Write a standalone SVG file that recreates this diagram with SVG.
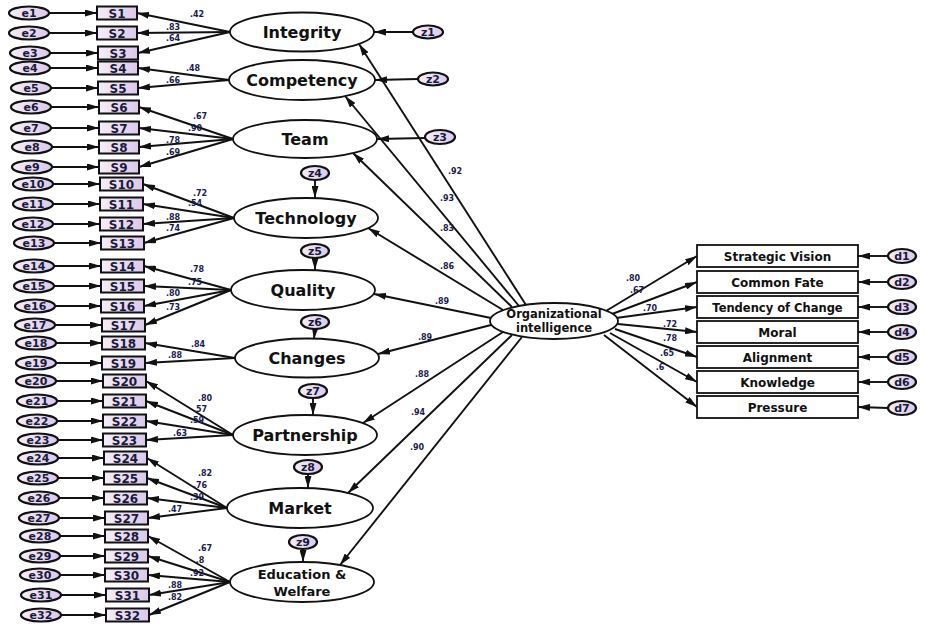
<svg xmlns="http://www.w3.org/2000/svg" width="925" height="625" viewBox="0 0 925 625">
<defs>
<linearGradient id="lav" x1="0" y1="0" x2="1" y2="0">
<stop offset="0" stop-color="#f4eef8"/><stop offset="1" stop-color="#dcc8ea"/>
</linearGradient>
<marker id="ah" markerWidth="12" markerHeight="7" refX="12" refY="3.5" orient="auto" markerUnits="userSpaceOnUse">
<path d="M0,0 L12,3.5 L0,7 z" fill="#111"/>
</marker>
</defs>
<style>
.e{fill:url(#lav);stroke:#111;stroke-width:2.2}
.s{fill:url(#lav);stroke:#111;stroke-width:2}
.lat{fill:#fff;stroke:#111;stroke-width:1.8}
.box{fill:#fff;stroke:#111;stroke-width:1.8}
.t{font-family:"DejaVu Sans",Verdana,sans-serif;font-weight:bold;fill:#111;text-anchor:middle}
.te{font-size:11px;fill:#1a1a3a}
.ts{font-size:12px;fill:#1a1a3a}
.tl{font-size:16px}
.tr{font-size:12px}
.tc{font-size:8px;fill:#1a1a50}
#conn line{stroke:#111;stroke-width:1.9;marker-end:url(#ah)}
</style>
<rect width="925" height="625" fill="#fff"/>
<g id="conn">
<line x1="49" y1="13" x2="97" y2="13"/>
<line x1="49" y1="33" x2="97" y2="33"/>
<line x1="50" y1="53" x2="98" y2="53"/>
<line x1="50" y1="68" x2="98" y2="68"/>
<line x1="51" y1="88" x2="98" y2="88"/>
<line x1="51" y1="107" x2="99" y2="107"/>
<line x1="51" y1="128" x2="99" y2="128"/>
<line x1="52" y1="147" x2="99" y2="147"/>
<line x1="52" y1="167" x2="99" y2="167"/>
<line x1="53" y1="184" x2="100" y2="184"/>
<line x1="53" y1="204" x2="100" y2="204"/>
<line x1="53" y1="224" x2="100" y2="224"/>
<line x1="54" y1="243" x2="101" y2="243"/>
<line x1="54" y1="266" x2="101" y2="266"/>
<line x1="54" y1="286" x2="101" y2="286"/>
<line x1="55" y1="306" x2="101" y2="306"/>
<line x1="55" y1="325" x2="102" y2="325"/>
<line x1="56" y1="343" x2="102" y2="343"/>
<line x1="56" y1="363" x2="102" y2="363"/>
<line x1="56" y1="381" x2="103" y2="381"/>
<line x1="57" y1="401" x2="103" y2="401"/>
<line x1="57" y1="421" x2="103" y2="421"/>
<line x1="58" y1="440" x2="103" y2="440"/>
<line x1="58" y1="458" x2="104" y2="458"/>
<line x1="58" y1="478" x2="104" y2="478"/>
<line x1="59" y1="498" x2="104" y2="498"/>
<line x1="59" y1="518" x2="105" y2="518"/>
<line x1="60" y1="536" x2="105" y2="536"/>
<line x1="60" y1="556" x2="105" y2="556"/>
<line x1="60" y1="575" x2="105" y2="575"/>
<line x1="61" y1="595" x2="106" y2="595"/>
<line x1="61" y1="615" x2="106" y2="615"/>
<line x1="230" y1="32" x2="137" y2="13"/>
<line x1="230" y1="32" x2="137" y2="33"/>
<line x1="230" y1="32" x2="138" y2="53"/>
<line x1="229" y1="80" x2="138" y2="68"/>
<line x1="229" y1="80" x2="138" y2="88"/>
<line x1="233" y1="139" x2="139" y2="107"/>
<line x1="233" y1="139" x2="139" y2="128"/>
<line x1="233" y1="139" x2="139" y2="147"/>
<line x1="233" y1="139" x2="139" y2="167"/>
<line x1="234" y1="218" x2="143" y2="184"/>
<line x1="234" y1="218" x2="143" y2="204"/>
<line x1="234" y1="218" x2="143" y2="224"/>
<line x1="234" y1="218" x2="144" y2="243"/>
<line x1="231" y1="290" x2="144" y2="266"/>
<line x1="231" y1="290" x2="144" y2="286"/>
<line x1="231" y1="290" x2="144" y2="306"/>
<line x1="231" y1="290" x2="145" y2="325"/>
<line x1="235" y1="358" x2="145" y2="343"/>
<line x1="235" y1="358" x2="145" y2="363"/>
<line x1="233" y1="435" x2="146" y2="381"/>
<line x1="233" y1="435" x2="146" y2="401"/>
<line x1="233" y1="435" x2="146" y2="421"/>
<line x1="233" y1="435" x2="146" y2="440"/>
<line x1="227" y1="508" x2="147" y2="458"/>
<line x1="227" y1="508" x2="147" y2="478"/>
<line x1="227" y1="508" x2="147" y2="498"/>
<line x1="227" y1="508" x2="148" y2="518"/>
<line x1="230" y1="582" x2="148" y2="536"/>
<line x1="230" y1="582" x2="148" y2="556"/>
<line x1="230" y1="582" x2="148" y2="575"/>
<line x1="230" y1="582" x2="149" y2="595"/>
<line x1="230" y1="582" x2="149" y2="615"/>
<line x1="413" y1="32" x2="374" y2="32"/>
<line x1="418" y1="79" x2="375" y2="80"/>
<line x1="425" y1="138" x2="377" y2="139"/>
<line x1="315" y1="180" x2="315" y2="198"/>
<line x1="315" y1="258" x2="315" y2="270"/>
<line x1="315" y1="329" x2="314" y2="339"/>
<line x1="313" y1="398" x2="313" y2="415"/>
<line x1="308" y1="474" x2="308" y2="488"/>
<line x1="303" y1="549" x2="303" y2="562"/>
<line x1="526" y1="305" x2="359" y2="44"/>
<line x1="519" y1="306" x2="345" y2="96"/>
<line x1="512" y1="307" x2="353" y2="153"/>
<line x1="503" y1="310" x2="368" y2="228"/>
<line x1="491" y1="318" x2="374" y2="294"/>
<line x1="491" y1="325" x2="378" y2="354"/>
<line x1="503" y1="332" x2="363" y2="423"/>
<line x1="512" y1="335" x2="348" y2="493"/>
<line x1="522" y1="337" x2="340" y2="565"/>
<line x1="606" y1="311" x2="697" y2="256"/>
<line x1="612" y1="314" x2="697" y2="282"/>
<line x1="616" y1="318" x2="697" y2="307"/>
<line x1="618" y1="324" x2="697" y2="332"/>
<line x1="615" y1="329" x2="697" y2="357"/>
<line x1="610" y1="333" x2="697" y2="382"/>
<line x1="604" y1="335" x2="697" y2="407"/>
<line x1="888" y1="256" x2="858" y2="256"/>
<line x1="888" y1="282" x2="858" y2="282"/>
<line x1="888" y1="307" x2="858" y2="307"/>
<line x1="888" y1="332" x2="858" y2="332"/>
<line x1="888" y1="357" x2="858" y2="357"/>
<line x1="888" y1="382" x2="858" y2="382"/>
<line x1="888" y1="408" x2="858" y2="407"/>
</g>
<g id="e1"><ellipse class="e" cx="29" cy="13" rx="20" ry="6.5"/><text class="t te" x="29" y="17">e1</text></g>
<g id="e2"><ellipse class="e" cx="29" cy="33" rx="20" ry="6.5"/><text class="t te" x="29" y="37">e2</text></g>
<g id="e3"><ellipse class="e" cx="30" cy="53" rx="20" ry="6.5"/><text class="t te" x="30" y="57">e3</text></g>
<g id="e4"><ellipse class="e" cx="30" cy="68" rx="20" ry="6.5"/><text class="t te" x="30" y="72">e4</text></g>
<g id="e5"><ellipse class="e" cx="31" cy="88" rx="20" ry="6.5"/><text class="t te" x="31" y="92">e5</text></g>
<g id="e6"><ellipse class="e" cx="31" cy="107" rx="20" ry="6.5"/><text class="t te" x="31" y="111">e6</text></g>
<g id="e7"><ellipse class="e" cx="31" cy="128" rx="20" ry="6.5"/><text class="t te" x="31" y="132">e7</text></g>
<g id="e8"><ellipse class="e" cx="32" cy="147" rx="20" ry="6.5"/><text class="t te" x="32" y="151">e8</text></g>
<g id="e9"><ellipse class="e" cx="32" cy="167" rx="20" ry="6.5"/><text class="t te" x="32" y="171">e9</text></g>
<g id="e10"><ellipse class="e" cx="33" cy="184" rx="20" ry="6.5"/><text class="t te" x="33" y="188">e10</text></g>
<g id="e11"><ellipse class="e" cx="33" cy="204" rx="20" ry="6.5"/><text class="t te" x="33" y="208">e11</text></g>
<g id="e12"><ellipse class="e" cx="33" cy="224" rx="20" ry="6.5"/><text class="t te" x="33" y="228">e12</text></g>
<g id="e13"><ellipse class="e" cx="34" cy="243" rx="20" ry="6.5"/><text class="t te" x="34" y="247">e13</text></g>
<g id="e14"><ellipse class="e" cx="34" cy="266" rx="20" ry="6.5"/><text class="t te" x="34" y="270">e14</text></g>
<g id="e15"><ellipse class="e" cx="34" cy="286" rx="20" ry="6.5"/><text class="t te" x="34" y="290">e15</text></g>
<g id="e16"><ellipse class="e" cx="35" cy="306" rx="20" ry="6.5"/><text class="t te" x="35" y="310">e16</text></g>
<g id="e17"><ellipse class="e" cx="35" cy="325" rx="20" ry="6.5"/><text class="t te" x="35" y="329">e17</text></g>
<g id="e18"><ellipse class="e" cx="36" cy="343" rx="20" ry="6.5"/><text class="t te" x="36" y="347">e18</text></g>
<g id="e19"><ellipse class="e" cx="36" cy="363" rx="20" ry="6.5"/><text class="t te" x="36" y="367">e19</text></g>
<g id="e20"><ellipse class="e" cx="36" cy="381" rx="20" ry="6.5"/><text class="t te" x="36" y="385">e20</text></g>
<g id="e21"><ellipse class="e" cx="37" cy="401" rx="20" ry="6.5"/><text class="t te" x="37" y="405">e21</text></g>
<g id="e22"><ellipse class="e" cx="37" cy="421" rx="20" ry="6.5"/><text class="t te" x="37" y="425">e22</text></g>
<g id="e23"><ellipse class="e" cx="38" cy="440" rx="20" ry="6.5"/><text class="t te" x="38" y="444">e23</text></g>
<g id="e24"><ellipse class="e" cx="38" cy="458" rx="20" ry="6.5"/><text class="t te" x="38" y="462">e24</text></g>
<g id="e25"><ellipse class="e" cx="38" cy="478" rx="20" ry="6.5"/><text class="t te" x="38" y="482">e25</text></g>
<g id="e26"><ellipse class="e" cx="39" cy="498" rx="20" ry="6.5"/><text class="t te" x="39" y="502">e26</text></g>
<g id="e27"><ellipse class="e" cx="39" cy="518" rx="20" ry="6.5"/><text class="t te" x="39" y="522">e27</text></g>
<g id="e28"><ellipse class="e" cx="40" cy="536" rx="20" ry="6.5"/><text class="t te" x="40" y="540">e28</text></g>
<g id="e29"><ellipse class="e" cx="40" cy="556" rx="20" ry="6.5"/><text class="t te" x="40" y="560">e29</text></g>
<g id="e30"><ellipse class="e" cx="40" cy="575" rx="20" ry="6.5"/><text class="t te" x="40" y="579">e30</text></g>
<g id="e31"><ellipse class="e" cx="41" cy="595" rx="20" ry="6.5"/><text class="t te" x="41" y="599">e31</text></g>
<g id="e32"><ellipse class="e" cx="41" cy="615" rx="20" ry="6.5"/><text class="t te" x="41" y="619">e32</text></g>
<g id="S1"><rect class="s" x="97" y="6.5" width="40" height="13"/><text class="t ts" x="117" y="17.5">S1</text></g>
<g id="S2"><rect class="s" x="97" y="26.5" width="40" height="13"/><text class="t ts" x="117" y="37.5">S2</text></g>
<g id="S3"><rect class="s" x="98" y="46.5" width="40" height="13"/><text class="t ts" x="118" y="57.5">S3</text></g>
<g id="S4"><rect class="s" x="98" y="61.5" width="40" height="13"/><text class="t ts" x="118" y="72.5">S4</text></g>
<g id="S5"><rect class="s" x="98" y="81.5" width="40" height="13"/><text class="t ts" x="118" y="92.5">S5</text></g>
<g id="S6"><rect class="s" x="99" y="100.5" width="40" height="13"/><text class="t ts" x="119" y="111.5">S6</text></g>
<g id="S7"><rect class="s" x="99" y="121.5" width="40" height="13"/><text class="t ts" x="119" y="132.5">S7</text></g>
<g id="S8"><rect class="s" x="99" y="140.5" width="40" height="13"/><text class="t ts" x="119" y="151.5">S8</text></g>
<g id="S9"><rect class="s" x="99" y="160.5" width="40" height="13"/><text class="t ts" x="119" y="171.5">S9</text></g>
<g id="S10"><rect class="s" x="100" y="177.5" width="43" height="13"/><text class="t ts" x="121.5" y="188.5">S10</text></g>
<g id="S11"><rect class="s" x="100" y="197.5" width="43" height="13"/><text class="t ts" x="121.5" y="208.5">S11</text></g>
<g id="S12"><rect class="s" x="100" y="217.5" width="43" height="13"/><text class="t ts" x="121.5" y="228.5">S12</text></g>
<g id="S13"><rect class="s" x="101" y="236.5" width="43" height="13"/><text class="t ts" x="122.5" y="247.5">S13</text></g>
<g id="S14"><rect class="s" x="101" y="259.5" width="43" height="13"/><text class="t ts" x="122.5" y="270.5">S14</text></g>
<g id="S15"><rect class="s" x="101" y="279.5" width="43" height="13"/><text class="t ts" x="122.5" y="290.5">S15</text></g>
<g id="S16"><rect class="s" x="101" y="299.5" width="43" height="13"/><text class="t ts" x="122.5" y="310.5">S16</text></g>
<g id="S17"><rect class="s" x="102" y="318.5" width="43" height="13"/><text class="t ts" x="123.5" y="329.5">S17</text></g>
<g id="S18"><rect class="s" x="102" y="336.5" width="43" height="13"/><text class="t ts" x="123.5" y="347.5">S18</text></g>
<g id="S19"><rect class="s" x="102" y="356.5" width="43" height="13"/><text class="t ts" x="123.5" y="367.5">S19</text></g>
<g id="S20"><rect class="s" x="103" y="374.5" width="43" height="13"/><text class="t ts" x="124.5" y="385.5">S20</text></g>
<g id="S21"><rect class="s" x="103" y="394.5" width="43" height="13"/><text class="t ts" x="124.5" y="405.5">S21</text></g>
<g id="S22"><rect class="s" x="103" y="414.5" width="43" height="13"/><text class="t ts" x="124.5" y="425.5">S22</text></g>
<g id="S23"><rect class="s" x="103" y="433.5" width="43" height="13"/><text class="t ts" x="124.5" y="444.5">S23</text></g>
<g id="S24"><rect class="s" x="104" y="451.5" width="43" height="13"/><text class="t ts" x="125.5" y="462.5">S24</text></g>
<g id="S25"><rect class="s" x="104" y="471.5" width="43" height="13"/><text class="t ts" x="125.5" y="482.5">S25</text></g>
<g id="S26"><rect class="s" x="104" y="491.5" width="43" height="13"/><text class="t ts" x="125.5" y="502.5">S26</text></g>
<g id="S27"><rect class="s" x="105" y="511.5" width="43" height="13"/><text class="t ts" x="126.5" y="522.5">S27</text></g>
<g id="S28"><rect class="s" x="105" y="529.5" width="43" height="13"/><text class="t ts" x="126.5" y="540.5">S28</text></g>
<g id="S29"><rect class="s" x="105" y="549.5" width="43" height="13"/><text class="t ts" x="126.5" y="560.5">S29</text></g>
<g id="S30"><rect class="s" x="105" y="568.5" width="43" height="13"/><text class="t ts" x="126.5" y="579.5">S30</text></g>
<g id="S31"><rect class="s" x="106" y="588.5" width="43" height="13"/><text class="t ts" x="127.5" y="599.5">S31</text></g>
<g id="S32"><rect class="s" x="106" y="608.5" width="43" height="13"/><text class="t ts" x="127.5" y="619.5">S32</text></g>
<g id="integrity"><ellipse class="lat" cx="302" cy="32" rx="72" ry="19.5"/><text class="t tl" x="302" y="38">Integrity</text></g>
<g id="competency"><ellipse class="lat" cx="302" cy="80" rx="73" ry="20"/><text class="t tl" x="302" y="86">Competency</text></g>
<g id="team"><ellipse class="lat" cx="305" cy="139" rx="72" ry="19"/><text class="t tl" x="305" y="145">Team</text></g>
<g id="technology"><ellipse class="lat" cx="306" cy="218" rx="72" ry="20"/><text class="t tl" x="306" y="224">Technology</text></g>
<g id="quality"><ellipse class="lat" cx="303" cy="290" rx="72" ry="20"/><text class="t tl" x="303" y="296">Quality</text></g>
<g id="changes"><ellipse class="lat" cx="307" cy="358" rx="72" ry="19.5"/><text class="t tl" x="307" y="364">Changes</text></g>
<g id="partnership"><ellipse class="lat" cx="305" cy="435" rx="72" ry="20"/><text class="t tl" x="305" y="441">Partnership</text></g>
<g id="market"><ellipse class="lat" cx="300" cy="508" rx="73" ry="20"/><text class="t tl" x="300" y="514">Market</text></g>
<g id="education"><ellipse class="lat" cx="302" cy="582" rx="72" ry="20"/><text class="t" x="302" y="579" style="font-size:13px">Education &amp;</text><text class="t" x="302" y="596" style="font-size:13px">Welfare</text></g>
<g id="z1"><ellipse class="e" cx="428" cy="32" rx="15" ry="6.5"/><text class="t te" x="428" y="36">z1</text></g>
<g id="z2"><ellipse class="e" cx="433" cy="79" rx="15" ry="6.5"/><text class="t te" x="433" y="83">z2</text></g>
<g id="z3"><ellipse class="e" cx="440" cy="137" rx="15" ry="7"/><text class="t te" x="440" y="141">z3</text></g>
<g id="z4"><ellipse class="e" cx="315" cy="173" rx="14" ry="7"/><text class="t te" x="315" y="177">z4</text></g>
<g id="z5"><ellipse class="e" cx="315" cy="251" rx="14" ry="7"/><text class="t te" x="315" y="255">z5</text></g>
<g id="z6"><ellipse class="e" cx="315" cy="322" rx="14" ry="7"/><text class="t te" x="315" y="326">z6</text></g>
<g id="z7"><ellipse class="e" cx="313" cy="391" rx="14" ry="7"/><text class="t te" x="313" y="395">z7</text></g>
<g id="z8"><ellipse class="e" cx="308" cy="467" rx="14" ry="7"/><text class="t te" x="308" y="471">z8</text></g>
<g id="z9"><ellipse class="e" cx="303" cy="542" rx="14" ry="7"/><text class="t te" x="303" y="546">z9</text></g>
<g id="oi"><ellipse class="lat" cx="554" cy="321" rx="64" ry="18"/><text class="t" x="554" y="318" style="font-size:11.5px">Organizational</text><text class="t" x="554" y="332" style="font-size:11.5px">intelligence</text></g>
<g id="strategic"><rect class="box" x="697" y="245" width="161" height="22"/><text class="t tr" x="777.5" y="260.5">Strategic Vision</text></g>
<g id="fate"><rect class="box" x="697" y="271" width="161" height="22"/><text class="t tr" x="777.5" y="286.5">Common Fate</text></g>
<g id="tendency"><rect class="box" x="697" y="296" width="161" height="22"/><text class="t" x="777.5" y="311.5" style="font-size:11.5px">Tendency of Change</text></g>
<g id="moral"><rect class="box" x="697" y="321" width="161" height="22"/><text class="t tr" x="777.5" y="336.5">Moral</text></g>
<g id="alignment"><rect class="box" x="697" y="346" width="161" height="22"/><text class="t tr" x="777.5" y="361.5">Alignment</text></g>
<g id="knowledge"><rect class="box" x="697" y="371" width="161" height="22"/><text class="t tr" x="777.5" y="386.5">Knowledge</text></g>
<g id="pressure"><rect class="box" x="697" y="396" width="161" height="22"/><text class="t tr" x="777.5" y="411.5">Pressure</text></g>
<g id="d1"><ellipse class="e" cx="902" cy="256" rx="14" ry="7"/><text class="t te" x="902" y="260">d1</text></g>
<g id="d2"><ellipse class="e" cx="902" cy="282" rx="14" ry="7"/><text class="t te" x="902" y="286">d2</text></g>
<g id="d3"><ellipse class="e" cx="902" cy="307" rx="14" ry="7"/><text class="t te" x="902" y="311">d3</text></g>
<g id="d4"><ellipse class="e" cx="902" cy="332" rx="14" ry="7"/><text class="t te" x="902" y="336">d4</text></g>
<g id="d5"><ellipse class="e" cx="902" cy="357" rx="14" ry="7"/><text class="t te" x="902" y="361">d5</text></g>
<g id="d6"><ellipse class="e" cx="902" cy="382" rx="14" ry="7"/><text class="t te" x="902" y="386">d6</text></g>
<g id="d7"><ellipse class="e" cx="902" cy="408" rx="14" ry="7"/><text class="t te" x="902" y="412">d7</text></g>
<g id="coefs" class="t tc">
<text x="197" y="17">.42</text><text x="173" y="30">.83</text><text x="173" y="41">.64</text>
<text x="193" y="71">.48</text><text x="173" y="83">.66</text>
<text x="200" y="119">.67</text><text x="195" y="131">.90</text><text x="173" y="143">.78</text><text x="173" y="155">.69</text>
<text x="200" y="196">.72</text><text x="195" y="206">.54</text><text x="173" y="220">.88</text><text x="173" y="231">.74</text>
<text x="197" y="272">.78</text><text x="195" y="285">.75</text><text x="173" y="296">.80</text><text x="173" y="310">.73</text>
<text x="198" y="347">.84</text><text x="175" y="358">.88</text>
<text x="205" y="401">.80</text><text x="200" y="412">.57</text><text x="197" y="423">.59</text><text x="180" y="436">.63</text>
<text x="205" y="476">.82</text><text x="200" y="488">.76</text><text x="197" y="500">.39</text><text x="175" y="512">.47</text>
<text x="205" y="551">.67</text><text x="200" y="563">.8</text><text x="197" y="576">.92</text><text x="175" y="588">.88</text><text x="175" y="600">.82</text>
<text x="455" y="174">.92</text><text x="447" y="201">.93</text><text x="447" y="231">.83</text><text x="447" y="269">.86</text>
<text x="442" y="304">.89</text><text x="425" y="340">.89</text><text x="422" y="377">.88</text><text x="418" y="415">.94</text><text x="417" y="450">.90</text>
<text x="633" y="281">.80</text><text x="637" y="293">.67</text><text x="650" y="311">.70</text><text x="670" y="327">.72</text>
<text x="670" y="341">.78</text><text x="667" y="356">.65</text><text x="660" y="370">.6</text>
</g>
</svg>
